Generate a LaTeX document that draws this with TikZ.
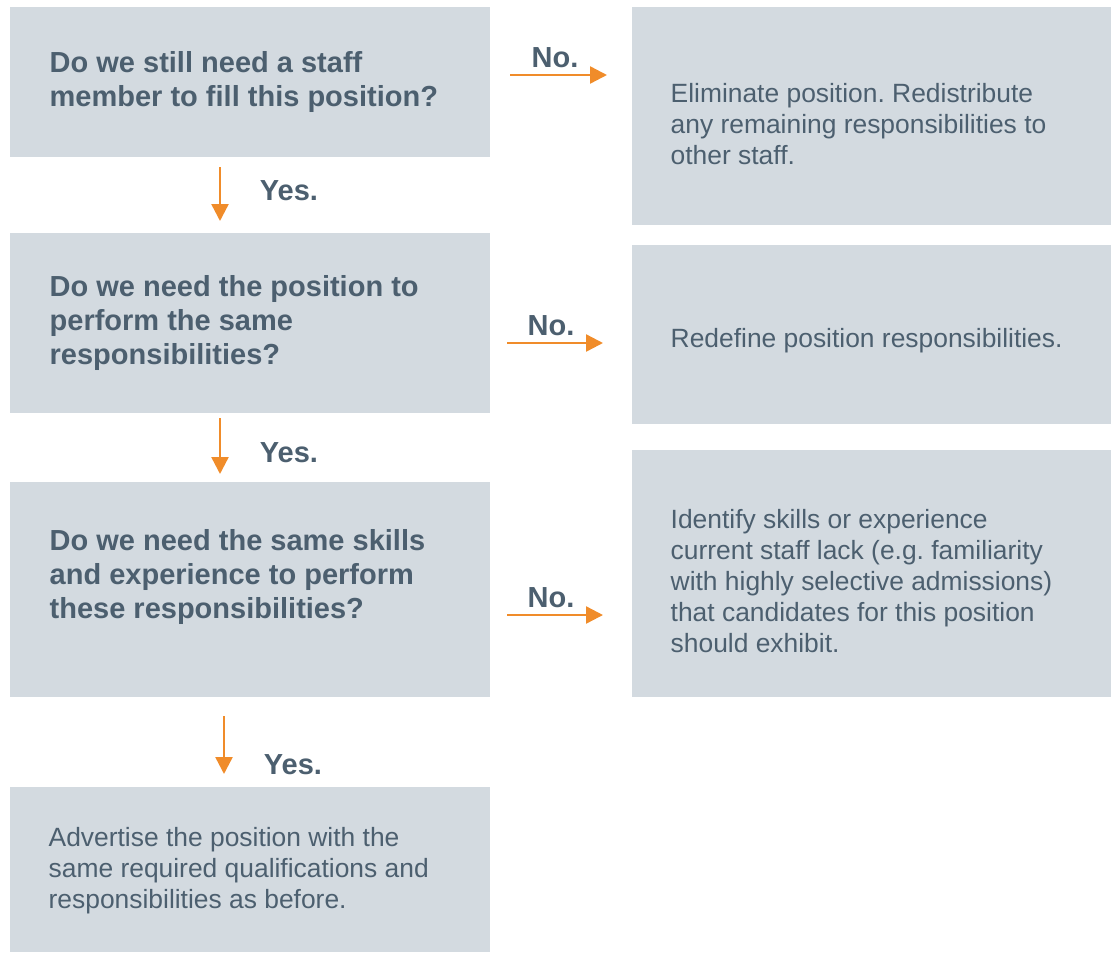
\documentclass[tikz,border=0pt]{standalone}
\usepackage{fontspec}
\setmainfont{Liberation Sans}
\usetikzlibrary{arrows.meta}
\frenchspacing
\definecolor{boxfill}{HTML}{D3DAE0}
\definecolor{txt}{HTML}{4C5F6F}
\definecolor{arr}{HTML}{F08C2A}
\begin{document}
\begin{tikzpicture}[x=1pt,y=-1pt,
  box/.style={fill=boxfill,draw=none,inner sep=0pt,anchor=north west},
  qtext/.style={text=txt,font=\fontsize{29}{34}\selectfont\bfseries,align=left,anchor=west,inner sep=0pt},
  atext/.style={text=txt,font=\fontsize{26.4}{31}\selectfont,align=left,anchor=west,inner sep=0pt},
  lab/.style={text=txt,font=\fontsize{29}{30}\selectfont\bfseries,inner sep=0pt},
  flow/.style={draw=arr,line width=2.4pt,-{Triangle[length=17pt,width=17pt]}}]
\useasboundingbox (0,0) rectangle (1113,954);
% boxes
\node[box,minimum width=480pt,minimum height=150pt] (q1) at (10,7) {};
\node[box,minimum width=479pt,minimum height=218pt] (a1) at (632,7) {};
\node[box,minimum width=480pt,minimum height=180pt] (q2) at (10,233) {};
\node[box,minimum width=479pt,minimum height=179pt] (a2) at (632,245) {};
\node[box,minimum width=480pt,minimum height=215pt] (q3) at (10,482) {};
\node[box,minimum width=479pt,minimum height=247pt] (a3) at (632,450) {};
\node[box,minimum width=480pt,minimum height=165pt] (a4) at (10,787) {};
% texts
\node[qtext] (q1t) at (49.5,82) {Do we still need a staff\\member to fill this position?};
\node[qtext] (q2t) at (49.5,323) {Do we need the position to\\perform the same\\responsibilities?};
\node[qtext] (q3t) at (49.5,577) {Do we need the same skills\\and experience to perform\\these responsibilities?};
\node[atext] (a1t) at (670.5,124) {Eliminate position. Redistribute\\any remaining responsibilities to\\other staff.};
\node[atext] (a2t) at (670.5,341) {Redefine position responsibilities.};
\node[atext] (a3t) at (670.5,581) {Identify skills or experience\\current staff lack (e.g. familiarity\\with highly selective admissions)\\that candidates for this position\\should exhibit.};
\node[atext] (a4t) at (48.5,871) {Advertise the position with the\\same required qualifications and\\responsibilities as before.};
% connector end points
\coordinate (n1s) at (510,75); \coordinate (n1e) at (607,75);
\coordinate (n2s) at (507,343); \coordinate (n2e) at (603,343);
\coordinate (n3s) at (507,615); \coordinate (n3e) at (603,615);
\coordinate (y1s) at (220,167); \coordinate (y1e) at (220,221);
\coordinate (y2s) at (220,418); \coordinate (y2e) at (220,474);
\coordinate (y3s) at (224,716); \coordinate (y3e) at (224,774);
\draw[flow] (n1s) -- (n1e);
\draw[flow] (n2s) -- (n2e);
\draw[flow] (n3s) -- (n3e);
\draw[flow] (y1s) -- (y1e);
\draw[flow] (y2s) -- (y2e);
\draw[flow] (y3s) -- (y3e);
% labels
\node[lab] (n1l) at (555,58) {No.};
\node[lab] (n2l) at (551,326) {No.};
\node[lab] (n3l) at (551,598) {No.};
\node[lab] (y1l) at (289,191) {Yes.};
\node[lab] (y2l) at (289,453) {Yes.};
\node[lab] (y3l) at (293,765) {Yes.};
\end{tikzpicture}
\end{document}
